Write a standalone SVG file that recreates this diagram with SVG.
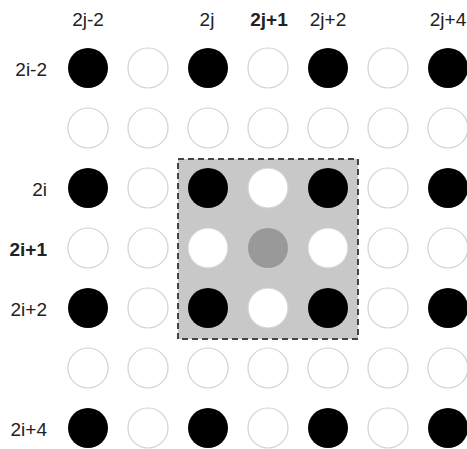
<svg xmlns="http://www.w3.org/2000/svg" width="467" height="449" viewBox="0 0 467 449">
<style>
text{font-family:"Liberation Sans",Arial,sans-serif;font-size:19px;fill:#222}
.b{font-weight:bold}
.col{text-anchor:middle}
.row{text-anchor:end}
.k{fill:#000}
.w{fill:#fff;stroke:#d2d2d2;stroke-width:1.2}
.g{fill:#999}
</style>
<rect width="467" height="449" fill="#fff"/>
<g id="window">
<rect x="178" y="159" width="180" height="180" fill="#c8c8c8" stroke="#444" stroke-width="2" stroke-dasharray="6,4"/>
</g>
<g id="col-labels">
<text class="col" x="88" y="26">2j-2</text>
<text class="col" x="207" y="26">2j</text>
<text class="col b" x="269" y="26">2j+1</text>
<text class="col" x="328" y="26">2j+2</text>
<text class="col" x="448" y="26">2j+4</text>
</g>
<g id="row-labels">
<text class="row" x="47" y="76">2i-2</text>
<text class="row" x="47" y="196">2i</text>
<text class="row b" x="47" y="256">2i+1</text>
<text class="row" x="47" y="316">2i+2</text>
<text class="row" x="47" y="436">2i+4</text>
</g>
<g id="row0">
<circle class="k" cx="88" cy="68" r="20"/><circle class="w" cx="148" cy="68" r="20"/><circle class="k" cx="208" cy="68" r="20"/><circle class="w" cx="268" cy="68" r="20"/><circle class="k" cx="328" cy="68" r="20"/><circle class="w" cx="388" cy="68" r="20"/><circle class="k" cx="448" cy="68" r="20"/>
</g>
<g id="row1">
<circle class="w" cx="88" cy="128" r="20"/><circle class="w" cx="148" cy="128" r="20"/><circle class="w" cx="208" cy="128" r="20"/><circle class="w" cx="268" cy="128" r="20"/><circle class="w" cx="328" cy="128" r="20"/><circle class="w" cx="388" cy="128" r="20"/><circle class="w" cx="448" cy="128" r="20"/>
</g>
<g id="row2">
<circle class="k" cx="88" cy="188" r="20"/><circle class="w" cx="148" cy="188" r="20"/><circle class="k" cx="208" cy="188" r="20"/><circle class="w" cx="268" cy="188" r="20"/><circle class="k" cx="328" cy="188" r="20"/><circle class="w" cx="388" cy="188" r="20"/><circle class="k" cx="448" cy="188" r="20"/>
</g>
<g id="row3">
<circle class="w" cx="88" cy="248" r="20"/><circle class="w" cx="148" cy="248" r="20"/><circle class="w" cx="208" cy="248" r="20"/><circle class="g" cx="268" cy="248" r="20"/><circle class="w" cx="328" cy="248" r="20"/><circle class="w" cx="388" cy="248" r="20"/><circle class="w" cx="448" cy="248" r="20"/>
</g>
<g id="row4">
<circle class="k" cx="88" cy="308" r="20"/><circle class="w" cx="148" cy="308" r="20"/><circle class="k" cx="208" cy="308" r="20"/><circle class="w" cx="268" cy="308" r="20"/><circle class="k" cx="328" cy="308" r="20"/><circle class="w" cx="388" cy="308" r="20"/><circle class="k" cx="448" cy="308" r="20"/>
</g>
<g id="row5">
<circle class="w" cx="88" cy="368" r="20"/><circle class="w" cx="148" cy="368" r="20"/><circle class="w" cx="208" cy="368" r="20"/><circle class="w" cx="268" cy="368" r="20"/><circle class="w" cx="328" cy="368" r="20"/><circle class="w" cx="388" cy="368" r="20"/><circle class="w" cx="448" cy="368" r="20"/>
</g>
<g id="row6">
<circle class="k" cx="88" cy="428" r="20"/><circle class="w" cx="148" cy="428" r="20"/><circle class="k" cx="208" cy="428" r="20"/><circle class="w" cx="268" cy="428" r="20"/><circle class="k" cx="328" cy="428" r="20"/><circle class="w" cx="388" cy="428" r="20"/><circle class="k" cx="448" cy="428" r="20"/>
</g>
</svg>
